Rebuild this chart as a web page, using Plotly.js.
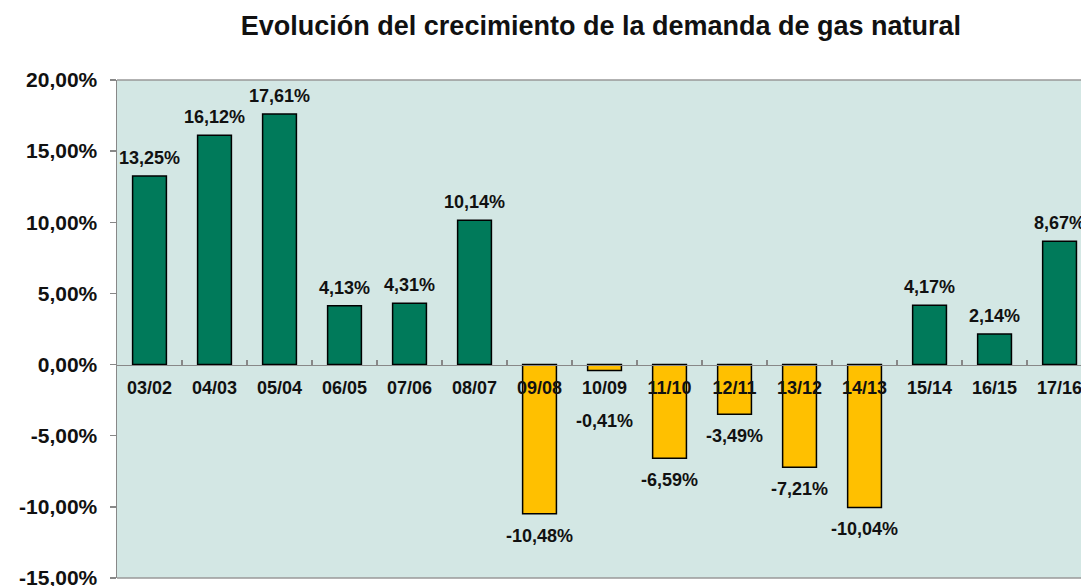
<!DOCTYPE html>
<html><head><meta charset="utf-8">
<script src="https://cdn.plot.ly/plotly-3.0.1.min.js"></script>
<style>body{margin:0;padding:0;background:#fff}#chart{width:1081px;height:586px}</style>
</head><body><div id="chart"></div>
<script>
const categories = ["03/02","04/03","05/04","06/05","07/06","08/07","09/08","10/09","11/10","12/11","13/12","14/13","15/14","16/15","17/16"];
const growth = [13.25,16.12,17.61,4.13,4.31,10.14,-10.48,-0.41,-6.59,-3.49,-7.21,-10.04,4.17,2.14,8.67];
const yTickVals = [20,15,10,5,0,-5,-10,-15];

const fmt = v => v.toFixed(2).replace('.', ',') + '%';
const colors = growth.map(v => v >= 0 ? '#007A5A' : '#FFC000');
const font = 'Liberation Sans, Arial, sans-serif';
const labelFont = {family: font, size: 18, color: '#111', weight: 'bold'};

const trace = {
  type: 'bar',
  x: categories,
  y: growth,
  width: 0.52,
  marker: {color: colors, line: {color: '#000', width: 1.5}},
  cliponaxis: false,
  hoverinfo: 'x+y'
};

// data labels: above positive bars, below negative bars; the tiny bar's label sits below the category label
const annotations = categories.map((c, i) => {
  const v = growth[i];
  const shift = v >= 0 ? 18 : (Math.abs(v) < 1 ? -51 : -22);
  return {
    x: c, y: v, xref: 'x', yref: 'y',
    text: fmt(v), showarrow: false,
    yanchor: 'middle', yshift: shift, font: labelFont
  };
});

const layout = {
  width: 1081, height: 586,
  margin: {l: 117, r: 0, t: 80, b: 8},
  paper_bgcolor: '#fff',
  plot_bgcolor: '#D3E7E4',
  showlegend: false,
  bargap: 0.48,
  title: {text: '<b>Evolución del crecimiento de la demanda de gas natural</b>',
          font: {family: font, size: 27, color: '#111'},
          x: 0.502, xref: 'paper', xanchor: 'center', y: 0.957, yanchor: 'middle'},
  xaxis: {
    type: 'category',
    range: [-0.5, 14.33],
    anchor: 'free', position: 15/35,
    showline: true, linecolor: '#888', linewidth: 1.5,
    ticks: 'inside', ticklen: 5, tickcolor: '#888', tickwidth: 1.5,
    tickson: 'boundaries',
    showgrid: false, zeroline: false,
    tickfont: labelFont,
    ticklabelstandoff: 6
  },
  yaxis: {
    range: [-15, 20],
    tickvals: yTickVals,
    ticktext: yTickVals.map(fmt),
    showline: true, linecolor: '#888', linewidth: 1.5,
    ticks: 'outside', ticklen: 6, tickcolor: '#888', tickwidth: 1.5,
    showgrid: false, zeroline: false,
    tickfont: {family: font, size: 21, color: '#111', weight: 'bold'},
    ticklabelstandoff: 8,
    ticklabeloverflow: 'allow'
  },
  annotations: annotations,
  shapes: [
    {type: 'line', xref: 'paper', yref: 'paper', x0: 0, x1: 1, y0: 1, y1: 1, line: {color: '#999', width: 1.5}},
    {type: 'line', xref: 'paper', yref: 'paper', x0: 0, x1: 1, y0: 0, y1: 0, line: {color: '#999', width: 1.5}}
  ]
};

Plotly.newPlot('chart', [trace], layout, {displayModeBar: false, staticPlot: true});
</script></body></html>
